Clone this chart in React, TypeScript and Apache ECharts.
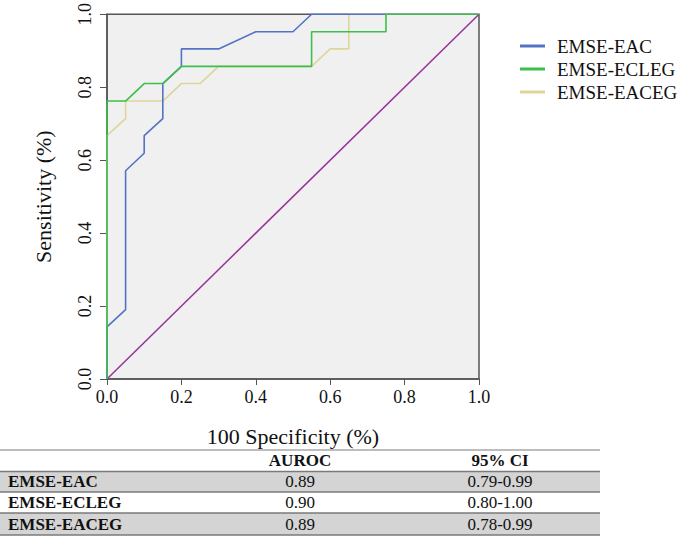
import React, { useEffect, useRef } from "react";
import * as echarts from "echarts";

const seriesNames = ["EMSE-EAC", "EMSE-ECLEG", "EMSE-EACEG"];
const seriesColors = ["#5273c6", "#3dbf4c", "#ddd59a"];

// [1 - specificity, sensitivity]
const eacPoints: number[][] = [
  [0, 0], [0, 0.143], [0.05, 0.19], [0.05, 0.571], [0.1, 0.619], [0.1, 0.667],
  [0.15, 0.714], [0.15, 0.81], [0.2, 0.857], [0.2, 0.905], [0.3, 0.905],
  [0.4, 0.952], [0.5, 0.952], [0.55, 1], [1, 1],
];
const eclegPoints: number[][] = [
  [0, 0], [0, 0.762], [0.05, 0.762], [0.1, 0.81], [0.15, 0.81], [0.2, 0.857],
  [0.55, 0.857], [0.55, 0.952], [0.75, 0.952], [0.75, 1], [1, 1],
];
const eacegPoints: number[][] = [
  [0, 0], [0, 0.667], [0.05, 0.714], [0.05, 0.762], [0.15, 0.762], [0.2, 0.81],
  [0.25, 0.81], [0.3, 0.857], [0.55, 0.857], [0.6, 0.905], [0.65, 0.905],
  [0.65, 1], [1, 1],
];
const referencePoints: number[][] = [[0, 0], [1, 1]];

const tableHeaders = ["AUROC", "95% CI"];
const tableNames = ["EMSE-EAC", "EMSE-ECLEG", "EMSE-EACEG"];
const tableAuroc = ["0.89", "0.90", "0.89"];
const tableCI = ["0.79-0.99", "0.80-1.00", "0.78-0.99"];

const FONT = "'Liberation Serif', 'Times New Roman', serif";

export default function App() {
  const ref = useRef<HTMLDivElement>(null);

  useEffect(() => {
    document.body.style.margin = "0";
    if (!ref.current) return;
    const chart = echarts.init(ref.current, undefined, { renderer: "svg" });

    const tableTop = 450;
    const rowH = [21.5, 20.5, 21, 22];
    const rowY: number[] = [];
    let acc = tableTop;
    rowH.forEach((h) => {
      rowY.push(acc);
      acc += h;
    });
    const tableRight = 600;
    const col1 = 300;
    const col2 = 500;

    const graphics: any[] = [];
    [0, 2].forEach((i) => {
      graphics.push({
        type: "rect",
        shape: { x: 0, y: rowY[i + 1], width: tableRight, height: rowH[i + 1] },
        style: { fill: "#d4d4d4" },
        silent: true,
      });
    });
    graphics.push({
      type: "line",
      shape: { x1: 0, y1: tableTop, x2: tableRight, y2: tableTop },
      style: { stroke: "#bdbdbd", lineWidth: 2 },
    });
    [rowY[1], rowY[2], rowY[3], rowY[3] + rowH[3]].forEach((y) => {
      graphics.push({
        type: "line",
        shape: { x1: 0, y1: y, x2: tableRight, y2: y },
        style: { stroke: "#7a7a7a", lineWidth: 1.5 },
      });
    });
    tableHeaders.forEach((h, i) => {
      graphics.push({
        type: "text",
        x: i === 0 ? col1 : col2,
        y: rowY[0] + rowH[0] / 2,
        style: {
          text: h, fontFamily: FONT, fontSize: 17, fontWeight: "bold",
          fill: "#111", align: "center", verticalAlign: "middle",
        },
      });
    });
    tableNames.forEach((n, i) => {
      const cy = rowY[i + 1] + rowH[i + 1] / 2;
      graphics.push({
        type: "text", x: 8, y: cy,
        style: {
          text: n, fontFamily: FONT, fontSize: 17, fontWeight: "bold",
          fill: "#111", align: "left", verticalAlign: "middle",
        },
      });
      graphics.push({
        type: "text", x: col1, y: cy,
        style: {
          text: tableAuroc[i], fontFamily: FONT, fontSize: 17,
          fill: "#111", align: "center", verticalAlign: "middle",
        },
      });
      graphics.push({
        type: "text", x: col2, y: cy,
        style: {
          text: tableCI[i], fontFamily: FONT, fontSize: 17,
          fill: "#111", align: "center", verticalAlign: "middle",
        },
      });
    });

    const lineData = [eacPoints, eclegPoints, eacegPoints];

    chart.setOption({
      animation: false,
      backgroundColor: "#ffffff",
      grid: {
        left: 107, top: 11, width: 372, height: 368,
        show: true, backgroundColor: "#f0f0f0",
        borderColor: "#555", borderWidth: 1.5,
      },
      legend: {
        orient: "vertical",
        left: 515, top: 30,
        icon: "rect",
        itemWidth: 25, itemHeight: 3, itemGap: 1,
        data: seriesNames,
        textStyle: { fontFamily: FONT, fontSize: 19, color: "#111", lineHeight: 22, padding: [0, 0, 0, 7] },
      },
      xAxis: {
        type: "value", min: 0, max: 1, interval: 0.2,
        name: "100 Specificity (%)", nameLocation: "middle", nameGap: 46,
        nameTextStyle: { fontFamily: FONT, fontSize: 22, color: "#111" },
        axisLine: { show: true, lineStyle: { color: "#555", width: 1.5 } },
        axisTick: { show: true, length: 6, lineStyle: { color: "#555" } },
        axisLabel: {
          fontFamily: FONT, fontSize: 18, color: "#111", margin: 9,
          formatter: (v: number) => v.toFixed(1),
        },
        splitLine: { show: false },
      },
      yAxis: {
        type: "value", min: 0, max: 1, interval: 0.2,
        name: "Sensitivity (%)", nameLocation: "middle", nameGap: 53, nameRotate: 90,
        nameTextStyle: { fontFamily: FONT, fontSize: 22, color: "#111" },
        axisLine: { show: true, lineStyle: { color: "#555", width: 1.5 } },
        axisTick: { show: true, length: 7, lineStyle: { color: "#555" } },
        axisLabel: {
          fontFamily: FONT, fontSize: 18, color: "#111", margin: 13, rotate: 90,
          formatter: (v: number) => v.toFixed(1),
        },
        splitLine: { show: false },
      },
      series: [
        {
          name: "reference", type: "line", data: referencePoints, symbol: "none",
          lineStyle: { color: "#98329a", width: 1.5 }, silent: true, z: 1,
        },
        ...seriesNames.map((n, i) => ({
          name: n, type: "line", data: lineData[i], symbol: "none",
          itemStyle: { color: seriesColors[i] },
          lineStyle: { color: seriesColors[i], width: 1.6 },
          z: i === 2 ? 2 : i === 0 ? 3 : 4,
        })),
      ],
      graphic: graphics,
    });

    return () => chart.dispose();
  }, []);

  return <div ref={ref} style={{ width: 685, height: 537 }} />;
}
